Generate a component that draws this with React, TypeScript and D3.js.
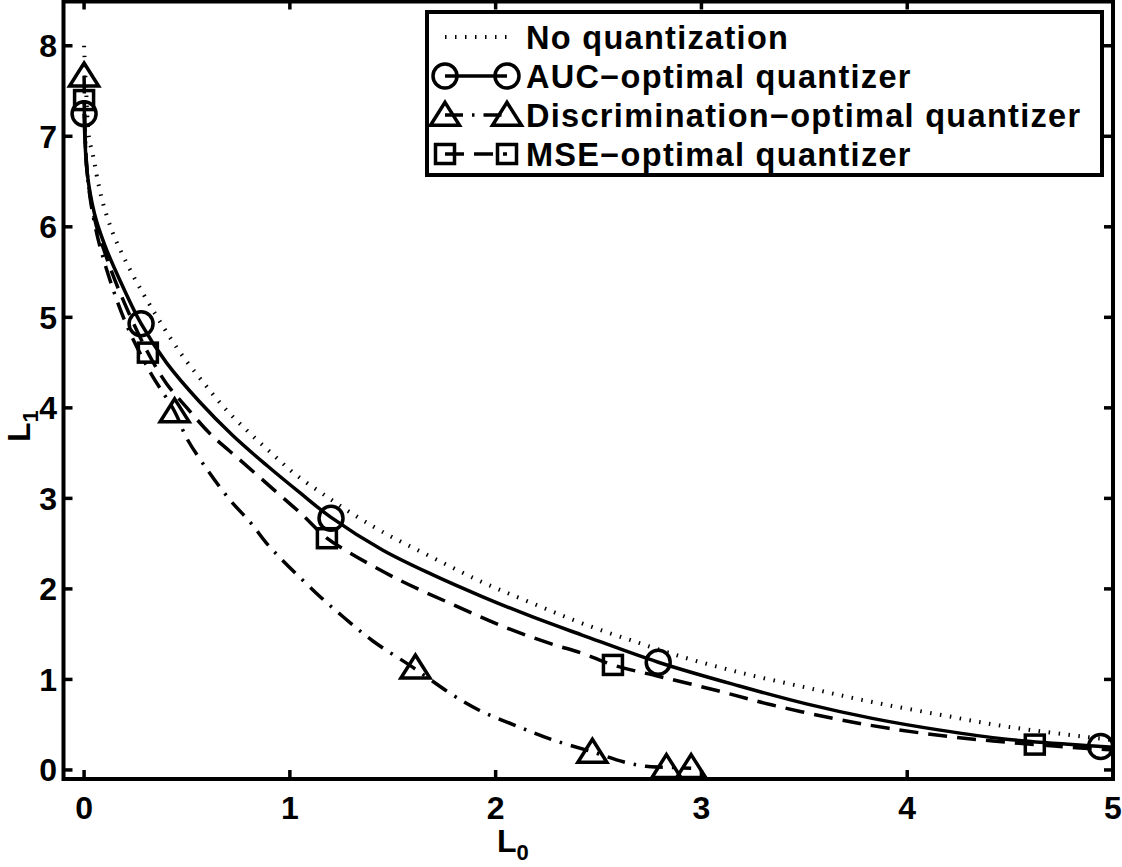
import React from "react";
import * as d3 from "d3";

// ---- data (L0, L1) ----
const noQuantL0 = [0, 0.01, 0.024, 0.045, 0.063, 0.092, 0.14, 0.2, 0.27, 0.345, 0.4, 0.48, 0.58, 0.69, 0.81, 0.92, 1.03, 1.16, 1.29, 1.45, 1.69, 1.94, 2.18, 2.42, 2.7, 2.89, 3.18, 3.51, 3.83, 4.16, 4.48, 4.85, 5.0];
const noQuantL1 = [8.0, 7.5, 6.99, 6.77, 6.55, 6.26, 5.93, 5.63, 5.33, 5.04, 4.84, 4.57, 4.28, 3.98, 3.71, 3.48, 3.26, 3.05, 2.85, 2.63, 2.35, 2.07, 1.84, 1.62, 1.4, 1.26, 1.08, 0.91, 0.75, 0.61, 0.48, 0.37, 0.33];

const aucCurveL0 = [0, 0.015, 0.05, 0.1, 0.17, 0.277, 0.4, 0.56, 0.72, 0.89, 1.05, 1.2, 1.45, 1.69, 1.94, 2.18, 2.42, 2.79, 3.18, 3.51, 3.83, 4.16, 4.48, 4.94, 5.0];
const aucCurveL1 = [7.25, 6.6, 6.15, 5.8, 5.43, 4.93, 4.5, 4.07, 3.7, 3.36, 3.06, 2.79, 2.43, 2.16, 1.91, 1.69, 1.49, 1.19, 0.93, 0.73, 0.57, 0.44, 0.34, 0.26, 0.25];
const aucMarkL0 = [0, 0.277, 1.2, 2.79, 4.94];
const aucMarkL1 = [7.25, 4.93, 2.78, 1.19, 0.26];

const discCurveL0 = [0, 0.015, 0.05, 0.1, 0.2, 0.32, 0.44, 0.5, 0.61, 0.71, 0.81, 0.9, 1.13, 1.26, 1.4, 1.6, 1.79, 1.92, 2.12, 2.28, 2.47, 2.62, 2.73, 2.82, 2.95];
const discCurveL1 = [7.67, 6.6, 6.05, 5.6, 4.95, 4.4, 3.96, 3.66, 3.28, 2.98, 2.73, 2.47, 1.95, 1.69, 1.43, 1.13, 0.83, 0.66, 0.47, 0.33, 0.2, 0.09, 0.04, 0.03, 0.02];
const discMarkL0 = [0, 0.44, 1.61, 2.47, 2.83, 2.95];
const discMarkL1 = [7.67, 3.96, 1.13, 0.2, 0.03, 0.03];

const mseCurveL0 = [0, 0.015, 0.05, 0.1, 0.175, 0.31, 0.4, 0.5, 0.61, 0.76, 0.92, 1.06, 1.18, 1.29, 1.53, 1.78, 2.02, 2.26, 2.42, 2.57, 2.8, 3.07, 3.34, 3.64, 3.91, 4.24, 4.62, 4.93, 5.0];
const mseCurveL1 = [7.4, 6.6, 6.1, 5.72, 5.27, 4.61, 4.27, 4.0, 3.72, 3.42, 3.1, 2.82, 2.56, 2.4, 2.1, 1.84, 1.6, 1.4, 1.29, 1.16, 1.03, 0.88, 0.72, 0.57, 0.46, 0.36, 0.28, 0.23, 0.22];
const mseMarkL0 = [0, 0.31, 1.18, 2.57, 4.62];
const mseMarkL1 = [7.4, 4.61, 2.56, 1.16, 0.28];

const xTicks = [0, 1, 2, 3, 4, 5];
const yTicks = [0, 1, 2, 3, 4, 5, 6, 7, 8];
const legendLabels = ["No quantization", "AUC\u2212optimal quantizer", "Discrimination\u2212optimal quantizer", "MSE\u2212optimal quantizer"];

const W = 1122, H = 867;
const FONT = "'Liberation Sans', Arial, Helvetica, sans-serif";

type Pt = [number, number];
const zip = (a: number[], b: number[]): Pt[] => a.map((v, i) => [v, b[i]]);

function Marker({ kind, x, y }: { kind: string; x: number; y: number }) {
  const sw = 3.5;
  if (kind === "circle") return <circle cx={x} cy={y} r={12} fill="none" stroke="#000" strokeWidth={sw} />;
  if (kind === "square") return <rect x={x - 9.5} y={y - 9.5} width={19} height={19} fill="none" stroke="#000" strokeWidth={sw} />;
  const hw = 14.5, h = 23;
  const p = `M${x},${y - h * 0.55}L${x + hw},${y + h * 0.45}L${x - hw},${y + h * 0.45}Z`;
  return <path d={p} fill="none" stroke="#000" strokeWidth={sw} strokeLinejoin="miter" />;
}

export default function App() {
  const x = d3.scaleLinear().domain([-0.1, 5]).range([63.5, 1113]);
  const y = d3.scaleLinear().domain([-0.1, 8.5]).range([779, 0.5]);
  const line = d3.line<Pt>().x(d => x(d[0])).y(d => y(d[1])).curve(d3.curveCatmullRom.alpha(0.5));

  const L = x(-0.1), R = x(5), T = y(8.5), B = y(-0.1);
  const tickLen = 9;

  const series = [
    { curve: zip(noQuantL0, noQuantL1), marks: [] as Pt[], dash: "1.5 8.5", kind: "", sw: 4 },
    { curve: zip(aucCurveL0, aucCurveL1), marks: zip(aucMarkL0, aucMarkL1), dash: "", kind: "circle", sw: 3.5 },
    { curve: zip(discCurveL0, discCurveL1), marks: zip(discMarkL0, discMarkL1), dash: "18 9 2.5 9", kind: "triangle", sw: 3.5 },
    { curve: zip(mseCurveL0, mseCurveL1), marks: zip(mseMarkL0, mseMarkL1), dash: "19 10", kind: "square", sw: 3.5 },
  ];

  const legX = 427, legY = 12, legW = 675, legH = 163;
  const rowY = [37, 76, 115, 154];
  const lx1 = 445, lx2 = 507;

  return (
    <svg width={W} height={H} style={{ position: "absolute", left: 0, top: 0, background: "#fff" }} fontFamily={FONT}>
      <rect x={0} y={0} width={W} height={H} fill="#fff" />
      {series.map((s, i) => (
        <path key={i} d={line(s.curve) || ""} fill="none" stroke="#000" strokeWidth={s.sw} strokeDasharray={s.dash || undefined} />
      ))}
      {series.map((s, i) => s.marks.map((m, j) => <Marker key={`${i}-${j}`} kind={s.kind} x={x(m[0])} y={y(m[1])} />))}

      {xTicks.map(t => (
        <g key={`x${t}`}>
          <line x1={x(t)} x2={x(t)} y1={B} y2={B - tickLen} stroke="#000" strokeWidth={3.5} />
          <line x1={x(t)} x2={x(t)} y1={T} y2={T + tickLen} stroke="#000" strokeWidth={3.5} />
          <text x={x(t)} y={819} textAnchor="middle" fontSize={32} fontWeight="bold">{t}</text>
        </g>
      ))}
      {yTicks.map(t => (
        <g key={`y${t}`}>
          <line x1={L} x2={L + tickLen} y1={y(t)} y2={y(t)} stroke="#000" strokeWidth={3.5} />
          <line x1={R} x2={R - tickLen} y1={y(t)} y2={y(t)} stroke="#000" strokeWidth={3.5} />
          <text x={57} y={y(t) + 11.5} textAnchor="end" fontSize={32} fontWeight="bold">{t}</text>
        </g>
      ))}
      <rect x={L} y={T + 1} width={R - L} height={B - T - 1} fill="none" stroke="#000" strokeWidth={4} />

      <text x={497} y={852} fontSize={32} fontWeight="bold">L<tspan fontSize={22} dy={8}>0</tspan></text>
      <text transform="translate(30,442) rotate(-90)" fontSize={32} fontWeight="bold">L<tspan fontSize={22} dy={8}>1</tspan></text>

      <rect x={legX} y={legY} width={legW} height={legH} fill="#fff" stroke="#000" strokeWidth={4} />
      {series.map((s, i) => (
        <g key={`leg${i}`}>
          <line x1={lx1} x2={lx2} y1={rowY[i]} y2={rowY[i]} stroke="#000" strokeWidth={s.sw} strokeDasharray={s.dash || undefined} />
          {s.kind && <Marker kind={s.kind} x={lx1} y={rowY[i]} />}
          {s.kind && <Marker kind={s.kind} x={lx2} y={rowY[i]} />}
          <text x={526} y={rowY[i] + 11.5} fontSize={32.5} fontWeight="bold" letterSpacing={1.3}>{legendLabels[i]}</text>
        </g>
      ))}
    </svg>
  );
}
